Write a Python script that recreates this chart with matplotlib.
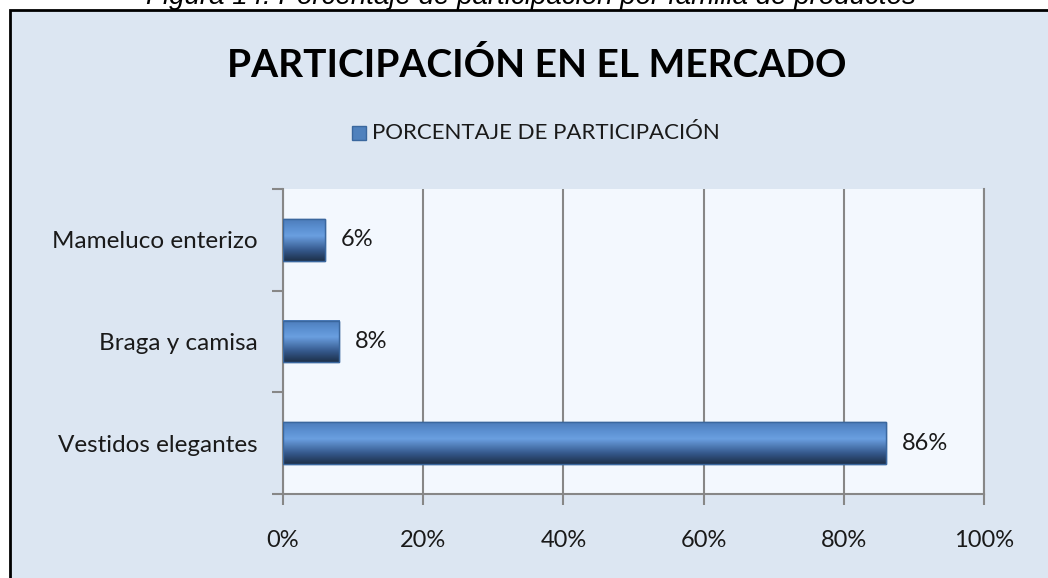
import matplotlib
matplotlib.use("Agg")
import matplotlib.pyplot as plt
import numpy as np
from matplotlib.colors import LinearSegmentedColormap
from matplotlib.patches import Rectangle

# Data
categories = ["Vestidos elegantes", "Braga y camisa", "Mameluco enterizo"]
shares = [86, 8, 6]
x_ticks = [0, 20, 40, 60, 80, 100]
x_tick_labels = [f"{t}%" for t in x_ticks]

title = "PARTICIPACIÓN EN EL MERCADO"
series_name = "PORCENTAJE DE PARTICIPACIÓN"
caption = "Figura 14: Porcentaje de participación por familia de productos"

W, H = 1048, 578
frame_bg = "#DCE6F2"
plot_bg = "#F3F8FE"
grid_color = "#878787"
text_color = "#1A1A1A"
font = "Lato"

fig = plt.figure(figsize=(W / 100, H / 100), dpi=100)
fig.patch.set_facecolor("white")

# chart frame
fig.patches.append(Rectangle((10 / W, -0.01), 1.02, 1 - 10 / H + 0.01,
                             transform=fig.transFigure, facecolor=frame_bg,
                             edgecolor="black", linewidth=2, zorder=-5))

# clipped caption above the frame (cut off in the source as well)
fig.text(531 / W, 1 - 4 / H, caption, ha="center", va="baseline",
         fontsize=20, style="italic", family="Liberation Sans", color="black")

ax = fig.add_axes([283 / W, 1 - 494 / H, (984 - 283) / W, (494 - 189) / H])
ax.set_zorder(2)
ax.set_facecolor(plot_bg)

y = np.arange(len(categories))
bars = ax.barh(y, shares, height=0.41, color="#4F81BD", edgecolor="#3A679E",
               linewidth=1, zorder=3)

# cylinder-like shading on each bar
cmap = LinearSegmentedColormap.from_list(
    "cyl", [(0.0, "#1D3049"), (0.25, "#34578A"), (0.6, "#6A9FE0"),
            (0.8, "#5A8ED0"), (1.0, "#4D7DBA")])
grad = np.linspace(0, 1, 256).reshape(-1, 1)
for b in bars:
    x0, y0 = b.get_x(), b.get_y()
    ax.imshow(grad, extent=[x0, x0 + b.get_width(), y0, y0 + b.get_height()],
              origin="lower", aspect="auto", cmap=cmap, zorder=3.5,
              interpolation="bilinear")
    ax.add_patch(Rectangle((x0, y0), b.get_width(), b.get_height(),
                           fill=False, edgecolor="#3A679E", linewidth=1,
                           zorder=4))

for yi, v in zip(y, shares):
    ax.annotate(f"{v}%", (v, yi), xytext=(16, 0), textcoords="offset pixels",
                ha="left", va="center", fontsize=17, family=font,
                color=text_color)

ax.set_xlim(0, 100)
ax.set_ylim(-0.5, len(categories) - 0.5)
ax.set_xticks(x_ticks)
ax.set_xticklabels(x_tick_labels, fontsize=17, family=font, color=text_color)
ax.set_yticks(y)
ax.set_yticklabels(categories, fontsize=17.5, family=font, color=text_color)
ax.set_yticks(np.arange(-0.5, len(categories)), minor=True)

ax.grid(axis="x", color=grid_color, linewidth=1.5, zorder=1)
ax.tick_params(axis="y", which="major", length=0, pad=18)
ax.tick_params(axis="y", which="minor", length=8, width=1.5, color=grid_color)
ax.tick_params(axis="x", length=8, width=1.5, color=grid_color, pad=18)

ax.spines["top"].set_visible(False)
for side in ["left", "bottom", "right"]:
    ax.spines[side].set_color(grid_color)
    ax.spines[side].set_linewidth(1.5)

fig.text(537 / W, 1 - 65 / H, title, ha="center", va="center",
         fontsize=28, fontweight="bold", family=font, color="black")

# legend
fig.patches.append(Rectangle((352 / W, 1 - 140 / H), 14 / W, 14 / H,
                             transform=fig.transFigure, facecolor="#4F81BD",
                             edgecolor="#3A679E", linewidth=1))
fig.text(372 / W, 1 - 133 / H, series_name, ha="left", va="center",
         fontsize=16, family=font, color=text_color)

fig.savefig("out.png", dpi=100)
